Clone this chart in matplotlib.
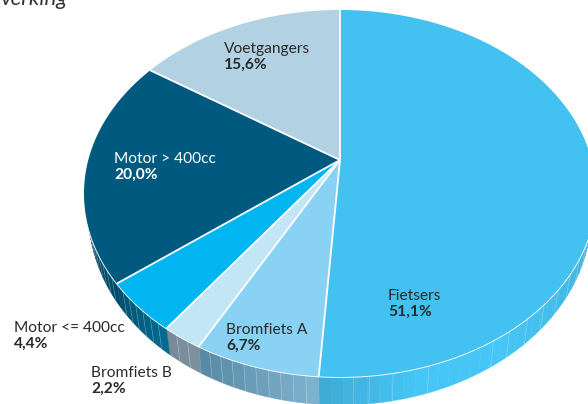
import numpy as np
import matplotlib
matplotlib.use('Agg')
import matplotlib.pyplot as plt
from matplotlib.colors import to_rgb
from matplotlib.patches import Polygon

plt.rcParams['font.family'] = ['Lato', 'DejaVu Sans']

labels = ['Fietsers', 'Bromfiets A', 'Bromfiets B', 'Motor <= 400cc', 'Motor > 400cc', 'Voetgangers']
shares = [51.1, 6.7, 2.2, 4.4, 20.0, 15.6]
share_labels = ['51,1%', '6,7%', '2,2%', '4,4%', '20,0%', '15,6%']

top_colors = ['#43C2F2', '#8AD2F4', '#C3E6F7', '#00B5F0', '#005A80', '#B2D1E2']
# side colour ramps, running clockwise through each slice
side_colors = [
    ['#3DA8D0', '#3FB0DC', '#42BAE6', '#45C6F6', '#45C6F6', '#3FAAD4'],
    ['#7FB4D0', '#5688A3'],
    ['#7E929E', '#75899A'],
    ['#006C93', '#00506E'],
    ['#004C6C', '#002F44'],
    ['#8FB0C2', '#8FB0C2'],
]
label_pos = [(388, 300), (226, 334), (91, 377), (14, 332), (114, 163), (224, 53)]
label_text_colors = ['#2A2A2A', '#2A2A2A', '#2A2A2A', '#2A2A2A', '#FFFFFF', '#2A2A2A']
# the facet lines on the side of the big slice are further apart
fietsers_lines = [95, 100, 105, 110, 115, 120, 125, 130, 135, 140, 145, 149, 163, 170, 174.5, 177.5]


# perspective of the pie plane, the apex sits above the middle of the ellipse
CX, CY = 340, 160
C = 0.1826
A = 177.4
D = 251.7
# outline of the top and bottom rim in pixels
TOP_A, TOP_B, TOP_CY = 256, 183.5, 193.5
BOT_A, BOT_B, BOT_CY = 251, 190, 215


def project(theta):
    # theta in degrees, clockwise from the top
    t = np.radians(theta)
    w = 1 + C * np.cos(t)
    return CX + D * np.sin(t) / w, CY - A * np.cos(t) / w


def project_bottom(theta):
    x, y = project(theta)
    return CX + (x - CX) / TOP_A * BOT_A, BOT_CY + (y - TOP_CY) / TOP_B * BOT_B


def ramp(colors, f):
    colors = np.array([to_rgb(c) for c in colors])
    pos = np.linspace(0, 1, len(colors))
    return tuple(np.interp(f, pos, colors[:, i]) for i in range(3))


def draw_side(ax, start, end, colors, lines=None):
    n = max(1, int(round((end - start) / 2.3)))
    edges = np.linspace(start, end, n + 1)
    for i in range(n):
        th = np.linspace(edges[i], edges[i + 1], 6)
        xt, yt = project(th)
        xb, yb = project_bottom(th)
        pts = np.column_stack([np.r_[xt, xb[::-1]], np.r_[yt, yb[::-1]]])
        ax.add_patch(Polygon(pts, closed=True, fc=ramp(colors, (i + 0.5) / n), ec=ramp(colors, (i + 0.5) / n), lw=0.3, zorder=2))
    if lines is None:
        lines = edges[1:-1]
    for th in lines:
        xt, yt = project(th)
        xb, yb = project_bottom(th)
        ax.plot([xt, xb], [yt, yb], color='white', lw=0.5, alpha=0.3, zorder=3)


def main():
    fig = plt.figure(figsize=(5.88, 4.04), dpi=100)
    ax = fig.add_axes([0, 0, 1, 1])
    ax.set_xlim(0, 588)
    ax.set_ylim(404, 0)
    ax.axis('off')

    bounds = np.r_[0, np.cumsum(shares)] / sum(shares) * 360

    for i in range(len(shares)):
        start, end = bounds[i], bounds[i + 1]
        # only the front of the pie shows its side
        s, e = max(start, 90), min(end, 290)
        if e > s:
            draw_side(ax, s, e, side_colors[i], fietsers_lines if i == 0 else None)

    # white rim along the front
    xr, yr = project(np.linspace(88, 292, 200))
    ax.plot(xr, yr, color='white', lw=1.3, zorder=4)

    for i in range(len(shares)):
        th = np.linspace(bounds[i], bounds[i + 1], 120)
        x, y = project(th)
        pts = np.column_stack([np.r_[CX, x], np.r_[CY, y]])
        ax.add_patch(Polygon(pts, closed=True, fc=top_colors[i], ec='none', zorder=5))

    for b in bounds[:-1]:
        x, y = project(b)
        ax.plot([CX, x], [CY, y], color='white', lw=1.3, zorder=6, solid_capstyle='butt')

    for i in range(len(labels)):
        x, y = label_pos[i]
        ax.text(x, y, labels[i], fontsize=11.2, color=label_text_colors[i], va='baseline', ha='left', zorder=7)
        ax.text(x, y + 16, share_labels[i], fontsize=11.2, fontweight='bold',
                color=label_text_colors[i], va='baseline', ha='left', zorder=7)

    ax.text(67, 5, 'verking', fontsize=16, style='italic', color='#333333', ha='right', va='baseline')

    fig.savefig('out.png', dpi=100)


if __name__ == '__main__':
    main()
